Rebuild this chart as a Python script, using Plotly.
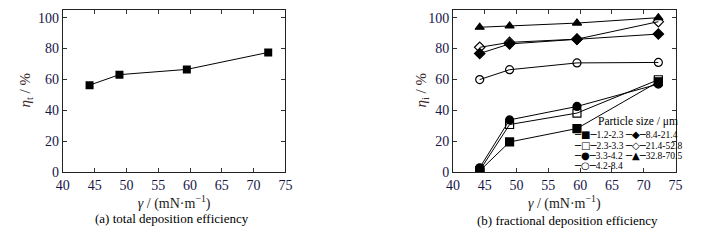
import plotly.graph_objects as go

# ---- data ----
gamma = [44.2, 48.9, 59.5, 72.3]
eta_total = [56.3, 63.1, 66.5, 77.5]

size_labels = ["1.2-2.3", "2.3-3.3", "3.3-4.2", "4.2-8.4", "8.4-21.4", "21.4-52.8", "32.8-70.5"]
eta_1 = [0.8, 19.5, 28.2, 58.5]
eta_2 = [1.0, 30.8, 38.2, 59.8]
eta_3 = [2.8, 33.8, 42.5, 57.0]
eta_4 = [59.9, 66.3, 70.7, 71.0]
eta_5 = [76.8, 83.0, 86.0, 89.4]
eta_6 = [80.8, 84.0, 86.1, 97.4]
eta_7 = [93.8, 94.6, 96.5, 100.0]
fractional = [eta_1, eta_2, eta_3, eta_4, eta_5, eta_6, eta_7]

xticks = [40, 45, 50, 55, 60, 65, 70, 75]
yticks = [0, 20, 40, 60, 80, 100]

symbols = ["square", "square-open", "circle", "circle-open", "diamond", "diamond-open", "triangle-up"]
glyphs = ["■", "□", "●", "○", "◆", "◇", "▲"]

W, H = 708, 240
FONT = "Liberation Serif, Times New Roman, serif"
TICKC = "#161648"

fig = go.Figure()

fig.add_trace(go.Scatter(
    x=gamma, y=eta_total, mode="lines+markers", xaxis="x", yaxis="y",
    line=dict(color="black", width=1),
    marker=dict(symbol="square", size=8, color="black"),
    showlegend=False, name="total"))

for lab, vals, sym in zip(size_labels, fractional, symbols):
    fig.add_trace(go.Scatter(
        x=gamma, y=vals, mode="lines+markers", xaxis="x2", yaxis="y2",
        line=dict(color="black", width=1),
        marker=dict(symbol=sym, size=8, color="black",
                    line=dict(color="black", width=1.2)),
        showlegend=False, name=lab))

def xax(domain, anchor):
    return dict(domain=domain, anchor=anchor, range=[40, 75], tickvals=xticks,
                ticks="inside", ticklen=4, tickcolor="#333", showline=True,
                linecolor="#222", linewidth=1, mirror="ticks", showgrid=False,
                zeroline=False, tickfont=dict(family=FONT, size=14, color=TICKC),
                title=dict(text="<i>γ</i> / (mN·m<sup>−1</sup>)",
                           font=dict(family=FONT, size=14, color="#222"), standoff=3))

def yax(domain, anchor):
    return dict(domain=domain, anchor=anchor, range=[0, 105], tickvals=yticks,
                ticks="inside", ticklen=4, tickcolor="#333", showline=True,
                linecolor="#222", linewidth=1, mirror="ticks", showgrid=False,
                zeroline=False, tickfont=dict(family=FONT, size=14, color=TICKC))

ydom = [1 - 178 / H, 1 - 10.3 / H]
fig.update_layout(
    width=W, height=H, margin=dict(l=0, r=0, t=0, b=0),
    paper_bgcolor="white", plot_bgcolor="white",
    xaxis=xax([57 / W, 284 / W], "y"),
    yaxis=yax(ydom, "x"),
    xaxis2=xax([455 / W, 682 / W], "y2"),
    yaxis2=yax(ydom, "x2"),
)

annotations = [
    dict(text="(a) total deposition efficiency", x=168 / W, y=1 - 226 / H),
    dict(text="(b) fractional deposition efficiency", x=572 / W, y=1 - 228 / H),
]
for a in annotations:
    a.update(xref="paper", yref="paper", showarrow=False, xanchor="center",
             yanchor="middle", font=dict(family=FONT, size=13, color="black"))

ytitles = [
    dict(text="<i>η</i><sub>t</sub> / %", x=19 / W, y=1 - 93 / H),
    dict(text="<i>η</i><sub>i</sub> / %", x=423 / W, y=1 - 93 / H),
]
for a in ytitles:
    a.update(xref="paper", yref="paper", showarrow=False, xanchor="center",
             yanchor="middle", textangle=-90,
             font=dict(family=FONT, size=15, color="#3a2a2a"))

# legend (built as text)
GF = "<span style='font-family:DejaVu Sans;font-size:10px'>"
legend_anns = [dict(text="Particle size / μm", x=601 / W, y=1 - 126 / H, xanchor="left",
                    font=dict(family=FONT, size=11.5, color="black"))]
row_y = [139.5, 150, 160.5, 171]
cols = [(576, [0, 1, 2, 3]), (628, [4, 5, 6])]
for cx, idxs in cols:
    for r, i in enumerate(idxs):
        legend_anns.append(dict(
            text=GF + "─" + glyphs[i] + "─</span>" + size_labels[i],
            x=cx / W, y=1 - row_y[r] / H,
            xanchor="left", font=dict(family=FONT, size=9.5, color="black")))
for a in legend_anns:
    a.update(xref="paper", yref="paper", showarrow=False, yanchor="middle")

fig.update_layout(annotations=annotations + ytitles + legend_anns)

fig.write_html("out.html")
